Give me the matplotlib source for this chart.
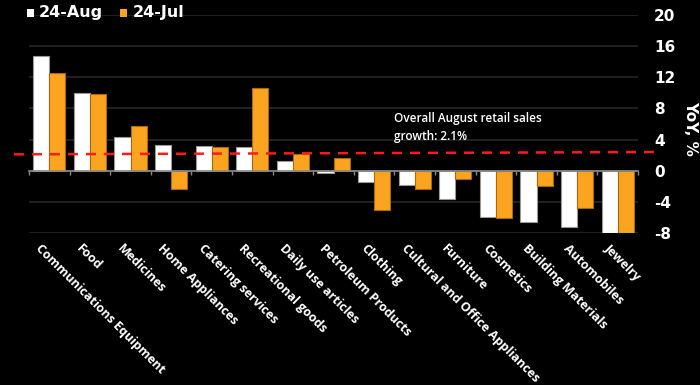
import matplotlib
matplotlib.use("Agg")
import matplotlib.pyplot as plt
import matplotlib.transforms as mtransforms
import numpy as np

categories = ["Communications Equipment", "Food", "Medicines", "Home Appliances",
              "Catering services", "Recreational goods", "Daily use articles",
              "Petroleum Products", "Clothing", "Cultural and Office Appliances",
              "Furniture", "Cosmetics", "Building Materials", "Automobiles", "Jewelry"]
aug = [14.7, 10.0, 4.3, 3.3, 3.2, 3.1, 1.2, -0.3, -1.5, -1.8, -3.6, -6.0, -6.6, -7.2, -8.0]
jul = [12.6, 9.8, 5.8, -2.4, 3.0, 10.6, 2.1, 1.6, -5.1, -2.3, -1.0, -6.1, -2.0, -4.8, -8.0]
series_names = ["24-Aug", "24-Jul"]
overall = 2.1
yticks = [-8, -4, 0, 4, 8, 12, 16, 20]

plt.rcParams['font.family'] = ['Open Sans', 'DejaVu Sans']
plt.rcParams['axes.unicode_minus'] = False

BG = "#000000"
WHITE = "#ffffff"
ORANGE = "#fba41f"

fig = plt.figure(figsize=(7, 3.85), dpi=100, facecolor=BG)
ax = fig.add_axes([29/700, 1-233/385, (638-29)/700, (233-15)/385])
ax.set_facecolor(BG)

x = np.arange(len(categories))
w = 0.395
ax.bar(x - w/2, aug, w, color=WHITE, edgecolor="#9a9a9a", linewidth=0.8, zorder=3)
ax.bar(x + w/2, jul, w, color=ORANGE, edgecolor="#a86a10", linewidth=0.8, zorder=3)

ax.set_xlim(-0.5, len(categories) - 0.5)
ax.set_ylim(-8, 20)
ax.set_yticks(yticks)
ax.yaxis.tick_right()
ax.tick_params(axis='y', length=0, pad=11.5, colors=WHITE)
for lbl in ax.get_yticklabels():
    lbl.set_fontweight('bold')
    lbl.set_fontfamily('DejaVu Sans')
    lbl.set_fontsize(11)
ax.text(1.087, 0.48, "YoY, %", transform=ax.transAxes, rotation=-90, ha='center', va='center',
        color=WHITE, fontsize=11, fontweight='bold', family='DejaVu Sans')
ax.grid(axis='y', color="#262626", linewidth=1.2, zorder=0)

for s in ['top', 'right', 'left']:
    ax.spines[s].set_visible(False)
ax.spines['bottom'].set_position(('data', 0))
ax.spines['bottom'].set_color("#8a8a8a")
ax.spines['bottom'].set_linewidth(1.2)
ax.spines['bottom'].set_zorder(4)
ax.set_xticks(np.arange(len(categories) + 1) - 0.5)
ax.set_xticklabels([])
ax.tick_params(axis='x', length=3, width=1, color="#8a8a8a", direction='out')

# category labels below plot
trans = mtransforms.blended_transform_factory(ax.transData, ax.transAxes)
offset = mtransforms.ScaledTranslation(-7/100, -9/100, fig.dpi_scale_trans)
for xi, name in zip(x, categories):
    ax.text(xi, 0, name, transform=trans + offset, rotation=-45, rotation_mode='anchor',
            ha='left', va='top', color=WHITE, fontsize=9, fontweight='bold')

# overall line
ax.plot([-0.87, 14.94], [overall, overall + 0.3], color="#ff1a1a", linestyle=(0, (4, 3.2)),
        linewidth=1.8, zorder=5, clip_on=False)
ax.text(8.5, 3.5, "Overall August retail sales\ngrowth: 2.1%", color=WHITE, fontsize=8.5,
        fontweight='semibold', ha='left', va='bottom', linespacing=1.5, zorder=6)

# legend
fig.patches.append(plt.Rectangle((27/700, 1-16.5/385), 7/700, 7/385, transform=fig.transFigure,
                                 facecolor=WHITE, edgecolor="none"))
fig.text(39/700, 1-12.5/385, series_names[0], color=WHITE, fontsize=11.5, fontweight='bold',
         va='center', ha='left', family='DejaVu Sans')
fig.patches.append(plt.Rectangle((120/700, 1-16.5/385), 7/700, 7/385, transform=fig.transFigure,
                                 facecolor=ORANGE, edgecolor="none"))
fig.text(133/700, 1-12.5/385, series_names[1], color=WHITE, fontsize=11.5, fontweight='bold',
         va='center', ha='left', family='DejaVu Sans')

fig.savefig("out.png", dpi=100, facecolor=BG)
